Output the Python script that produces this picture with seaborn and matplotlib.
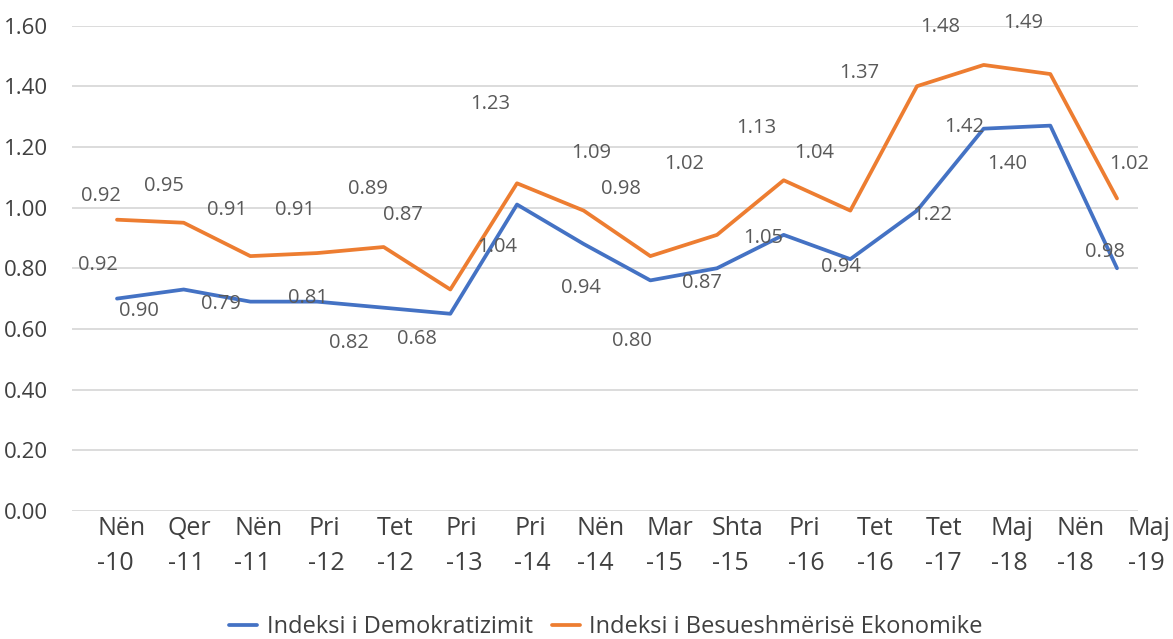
import numpy as np
import pandas as pd
import seaborn as sns
import matplotlib.pyplot as plt
from matplotlib.transforms import blended_transform_factory

# Category labels (x axis)
periods = ["Nën\n-10", "Qer\n-11", "Nën\n-11", "Pri\n-12", "Tet\n-12", "Pri\n-13",
           "Pri\n-14", "Nën\n-14", "Mar\n-15", "Shta\n-15", "Pri\n-16", "Tet\n-16",
           "Tet\n-17", "Maj\n-18", "Nën\n-18", "Maj\n-19"]

series_names = ["Indeksi i Demokratizimit", "Indeksi i Besueshmërisë Ekonomike"]

# Line values as drawn in the chart
demo_values = [0.70, 0.73, 0.69, 0.69, 0.67, 0.65, 1.01, 0.88,
               0.76, 0.80, 0.91, 0.83, 0.99, 1.26, 1.27, 0.80]
econ_values = [0.96, 0.95, 0.84, 0.85, 0.87, 0.73, 1.08, 0.99,
               0.84, 0.91, 1.09, 0.99, 1.40, 1.47, 1.44, 1.03]

# Data labels as printed on the chart
demo_labels = ["0.92", "0.90", "0.79", "0.81", "0.82", "0.68", "1.04", "0.94",
               "0.80", "0.87", "1.05", "0.94", "1.22", "1.42", "1.40", "0.98"]
econ_labels = ["0.92", "0.95", "0.91", "0.91", "0.89", "0.87", "1.23", "1.09",
               "0.98", "1.02", "1.13", "1.04", "1.37", "1.48", "1.49", "1.02"]

# label placement relative to each point (pixels, layout only)
demo_offsets = [(-19, 34), (-45, -22), (-29, -2), (-9, 4), (-35, -35), (-33, -25),
                (-20, -42), (-3, -44), (-18, -61), (-15, -15), (-20, -3), (-9, -8),
                (15, -4), (-19, 2), (-43, -38), (-12, 16)]
econ_offsets = [(-16, 24), (-20, 37), (-23, 46), (-22, 43), (-16, 58), (-47, 74),
                (-27, 79), (8, 58), (-29, 67), (-33, 71), (-27, 52), (-36, 58),
                (-58, 13), (-43, 38), (-27, 51), (12, 34)]

BLUE = "#4472C4"
ORANGE = "#ED7D31"
AXIS_TXT = "#404040"
LABEL_TXT = "#595959"

pos = np.arange(len(periods))
df = pd.DataFrame({
    "pos": np.concatenate([pos, pos]),
    "value": demo_values + econ_values,
    "series": [series_names[0]] * len(pos) + [series_names[1]] * len(pos),
})

sns.set_theme(style="white")
plt.rcParams["font.family"] = ["Open Sans", "DejaVu Sans"]

fig, ax = plt.subplots(figsize=(11.73, 6.39), dpi=100)
fig.subplots_adjust(left=72 / 1173, right=1138 / 1173, bottom=1 - 511 / 639, top=1 - 25.5 / 639)

sns.lineplot(data=df, x="pos", y="value", hue="series", palette=[BLUE, ORANGE],
             linewidth=2.7, legend=False, sort=False, ax=ax)

ax.set_xlim(-0.675, 15.315)
ax.set_ylim(0, 1.6)
yt = np.arange(0, 1.61, 0.2)
ax.set_yticks(yt)
ax.set_yticklabels([f"{t:.2f}" for t in yt])
ax.yaxis.grid(True, color="#d9d9d9", linewidth=1.3)
ax.set_axisbelow(True)
ax.tick_params(axis="y", length=0, pad=17, labelsize=16, labelcolor=AXIS_TXT)
ax.set_xticks([])
ax.set_xlabel("")
ax.set_ylabel("")
sns.despine(ax=ax, left=True, bottom=True, top=True, right=True)

# category labels, spread slightly wider than the points like the original
trans = blended_transform_factory(ax.transData, ax.transAxes)
for i, lab in enumerate(periods):
    ax.text(0.064 + 1.028 * i, -0.010, lab, transform=trans, ha="center", va="top",
            multialignment="left", linespacing=1.55, fontsize=18, color=AXIS_TXT)

# data labels
for vals, labs, offs in [(demo_values, demo_labels, demo_offsets),
                         (econ_values, econ_labels, econ_offsets)]:
    for i, (v, lab, off) in enumerate(zip(vals, labs, offs)):
        ax.annotate(lab, xy=(i, v), xytext=off, textcoords="offset pixels",
                    ha="center", va="center", fontsize=14.5, color=LABEL_TXT)

fig.legend(handles=ax.lines[:2], labels=series_names, loc="center",
           bbox_to_anchor=(606 / 1173, 1 - 627 / 639), ncol=2, frameon=False,
           handlelength=1.2, handletextpad=0.4, columnspacing=0.8,
           fontsize=17, labelcolor=AXIS_TXT)

plt.savefig("out.png", dpi=100)
